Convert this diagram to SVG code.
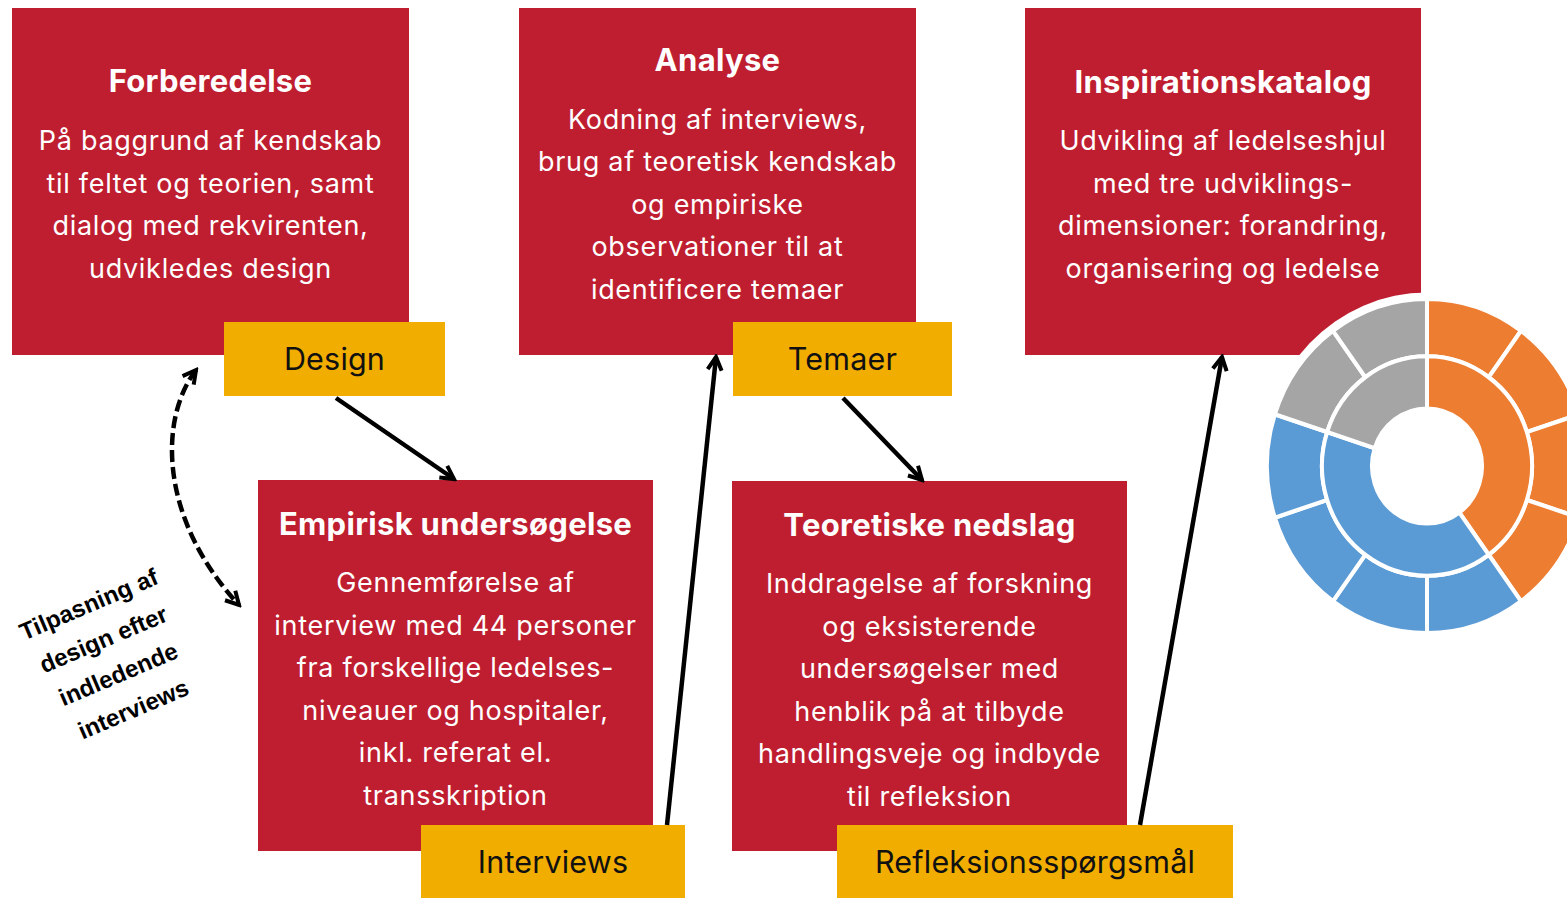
<svg xmlns="http://www.w3.org/2000/svg" width="1567" height="898" viewBox="0 0 1567 898">
  <style>
    .box { fill: #BE1E2F; }
    .tag { fill: #F1AD00; }
    .title { font-family: Inter, "Liberation Sans", sans-serif; font-weight: 700; font-size: 31px; letter-spacing: 0.3px; fill: #FFFFFF; text-anchor: middle; }
    .body { font-family: Inter, "Liberation Sans", sans-serif; font-size: 27px; letter-spacing: 0.7px; fill: #FFFFFF; text-anchor: middle; }
    .tagtext { font-family: Inter, "Liberation Sans", sans-serif; font-size: 30.5px; letter-spacing: 0.2px; fill: #111111; text-anchor: middle; }
    .note { font-family: "Liberation Sans", Arial, sans-serif; font-weight: 700; font-size: 24px; fill: #000000; text-anchor: middle; }
    .flow { stroke: #000000; stroke-width: 4.5; fill: none; marker-end: url(#head); }
    .loop { stroke: #000000; stroke-width: 4.5; fill: none; stroke-dasharray: 12 5; marker-start: url(#head); marker-end: url(#head); }
    .seg { stroke: #FFFFFF; stroke-width: 4; stroke-linejoin: miter; }
    .o { fill: #ED7D31; }
    .b { fill: #5B9BD5; }
    .g { fill: #A5A5A5; }
  </style>
  <defs>
    <marker id="head" viewBox="0 0 18 18" refX="15" refY="9" markerWidth="18" markerHeight="18" markerUnits="userSpaceOnUse" orient="auto-start-reverse">
      <path d="M2,2 L15,9 L2,16" fill="none" stroke="#000000" stroke-width="4"/>
    </marker>
  </defs>

  <rect width="1567" height="898" fill="#FFFFFF"/>

  <!-- Step 1 -->
  <g id="forberedelse">
    <rect class="box" x="12" y="8" width="397" height="347"/>
    <text class="title" x="210.5" y="92">Forberedelse</text>
    <text class="body" x="210.5" y="150">På baggrund af kendskab</text>
    <text class="body" x="210.5" y="192.5">til feltet og teorien, samt</text>
    <text class="body" x="210.5" y="235">dialog med rekvirenten,</text>
    <text class="body" x="210.5" y="277.5">udvikledes design</text>
  </g>

  <!-- Step 3 -->
  <g id="analyse">
    <rect class="box" x="519" y="8" width="397" height="347"/>
    <text class="title" x="717.5" y="71">Analyse</text>
    <text class="body" x="717.5" y="128.5">Kodning af interviews,</text>
    <text class="body" x="717.5" y="171">brug af teoretisk kendskab</text>
    <text class="body" x="717.5" y="213.5">og empiriske</text>
    <text class="body" x="717.5" y="256">observationer til at</text>
    <text class="body" x="717.5" y="298.5">identificere temaer</text>
  </g>

  <!-- Step 5 -->
  <g id="inspirationskatalog">
    <rect class="box" x="1025" y="8" width="396" height="347"/>
    <text class="title" x="1223" y="93">Inspirationskatalog</text>
    <text class="body" x="1223" y="150">Udvikling af ledelseshjul</text>
    <text class="body" x="1223" y="192.5">med tre udviklings-</text>
    <text class="body" x="1223" y="235">dimensioner: forandring,</text>
    <text class="body" x="1223" y="277.5">organisering og ledelse</text>
  </g>

  <!-- Step 2 -->
  <g id="empirisk">
    <rect class="box" x="258" y="480" width="395" height="371"/>
    <text class="title" x="455.5" y="535">Empirisk undersøgelse</text>
    <text class="body" x="455.5" y="592">Gennemførelse af</text>
    <text class="body" x="455.5" y="634.5">interview med 44 personer</text>
    <text class="body" x="455.5" y="677">fra forskellige ledelses-</text>
    <text class="body" x="455.5" y="719.5">niveauer og hospitaler,</text>
    <text class="body" x="455.5" y="762">inkl. referat el.</text>
    <text class="body" x="455.5" y="804.5">transskription</text>
  </g>

  <!-- Step 4 -->
  <g id="teoretiske">
    <rect class="box" x="732" y="481" width="395" height="370"/>
    <text class="title" x="929.5" y="536">Teoretiske nedslag</text>
    <text class="body" x="929.5" y="593">Inddragelse af forskning</text>
    <text class="body" x="929.5" y="635.5">og eksisterende</text>
    <text class="body" x="929.5" y="678">undersøgelser med</text>
    <text class="body" x="929.5" y="720.5">henblik på at tilbyde</text>
    <text class="body" x="929.5" y="763">handlingsveje og indbyde</text>
    <text class="body" x="929.5" y="805.5">til refleksion</text>
  </g>

  <!-- Output labels -->
  <g id="tag-design">
    <rect class="tag" x="224" y="322" width="221" height="74"/>
    <text class="tagtext" x="334.5" y="370">Design</text>
  </g>
  <g id="tag-temaer">
    <rect class="tag" x="733" y="322" width="219" height="74"/>
    <text class="tagtext" x="842.5" y="370">Temaer</text>
  </g>
  <g id="tag-interviews">
    <rect class="tag" x="421" y="825" width="264" height="73"/>
    <text class="tagtext" x="553" y="873">Interviews</text>
  </g>
  <g id="tag-refleksion">
    <rect class="tag" x="837" y="825" width="396" height="73"/>
    <text class="tagtext" x="1035" y="873">Refleksionsspørgsmål</text>
  </g>

  <!-- Leadership wheel -->
  <g id="wheel" transform="translate(1427,466) scale(1,1.045)">
    <circle r="166" fill="#FFFFFF"/>
    <path class="seg o" d="M0,-160 A160,160 0 0 1 94.05,-129.44 L61.72,-84.95 A105,105 0 0 0 0,-105 Z"/>
    <path class="seg o" d="M94.05,-129.44 A160,160 0 0 1 152.17,-49.44 L99.86,-32.45 A105,105 0 0 0 61.72,-84.95 Z"/>
    <path class="seg o" d="M152.17,-49.44 A160,160 0 0 1 152.17,49.44 L99.86,32.45 A105,105 0 0 0 99.86,-32.45 Z"/>
    <path class="seg o" d="M152.17,49.44 A160,160 0 0 1 94.05,129.44 L61.72,84.95 A105,105 0 0 0 99.86,32.45 Z"/>
    <path class="seg b" d="M94.05,129.44 A160,160 0 0 1 0,160 L0,105 A105,105 0 0 0 61.72,84.95 Z"/>
    <path class="seg b" d="M0,160 A160,160 0 0 1 -94.05,129.44 L-61.72,84.95 A105,105 0 0 0 0,105 Z"/>
    <path class="seg b" d="M-94.05,129.44 A160,160 0 0 1 -152.17,49.44 L-99.86,32.45 A105,105 0 0 0 -61.72,84.95 Z"/>
    <path class="seg b" d="M-152.17,49.44 A160,160 0 0 1 -152.17,-49.44 L-99.86,-32.45 A105,105 0 0 0 -99.86,32.45 Z"/>
    <path class="seg g" d="M-152.17,-49.44 A160,160 0 0 1 -94.05,-129.44 L-61.72,-84.95 A105,105 0 0 0 -99.86,-32.45 Z"/>
    <path class="seg g" d="M-94.05,-129.44 A160,160 0 0 1 0,-160 L0,-105 A105,105 0 0 0 -61.72,-84.95 Z"/>
    <path class="seg o" d="M0,-105 A105,105 0 0 1 61.72,84.95 L32.33,44.5 A55,55 0 0 0 0,-55 Z"/>
    <path class="seg b" d="M61.72,84.95 A105,105 0 0 1 -99.86,-32.45 L-52.31,-17 A55,55 0 0 0 32.33,44.5 Z"/>
    <path class="seg g" d="M-99.86,-32.45 A105,105 0 0 1 0,-105 L0,-55 A55,55 0 0 0 -52.31,-17 Z"/>
  </g>

  <!-- Connectors -->
  <g id="connectors">
    <line class="flow" x1="336" y1="398" x2="454" y2="479"/>
    <line class="flow" x1="667" y1="825" x2="716" y2="357"/>
    <line class="flow" x1="843" y1="398" x2="922" y2="480"/>
    <line class="flow" x1="1140" y1="825" x2="1222" y2="357"/>
    <path class="loop" d="M196,370 C158,420 160,520 239,605"/>
  </g>

  <!-- Loop annotation -->
  <g id="loop-note" transform="translate(111,657) rotate(-23)">
    <text class="note" x="0" y="-49">Tilpasning af</text>
    <text class="note" x="0" y="-11">design efter</text>
    <text class="note" x="0" y="27">indledende</text>
    <text class="note" x="0" y="65">interviews</text>
  </g>
</svg>
